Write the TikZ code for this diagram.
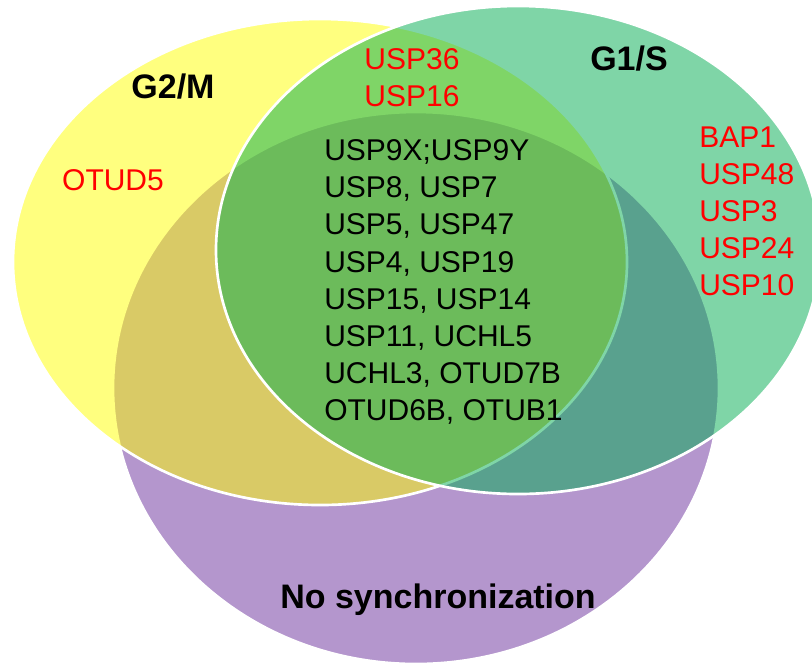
\documentclass[tikz,border=0pt]{standalone}
\usepackage{fontspec}
\setmainfont{Liberation Sans}
\definecolor{nosync}{RGB}{180,150,205}
\definecolor{gtwom}{RGB}{255,255,0}
\definecolor{gones}{RGB}{0,173,81}
\definecolor{dubred}{RGB}{255,0,0}
\tikzset{
  setline/.style={draw=white, line width=2pt},
  genes/.style={font=\fontsize{22.5}{27.8}\selectfont, align=left, inner sep=0pt},
  phase/.style={font=\fontsize{25.5}{30}\selectfont\bfseries, inner sep=0pt},
}

\begin{document}
\begin{tikzpicture}[x=0.75pt, y=-0.75pt]
    \clip (0,0) rectangle (812,665);
    \fill[white] (0,0) rectangle (812,665);

    % the three sets
    \draw[setline, fill=nosync] (416,388) ellipse [x radius=303, y radius=276];
    \draw[setline, fill=gtwom, fill opacity=0.5] (320,262) ellipse [x radius=307, y radius=243];
    \draw[setline, fill=gones, fill opacity=0.5] (518,250) ellipse [x radius=302, y radius=244];

    % set names
    \node[phase] (g2m) at (173,87) {G2/M};
    \node[phase] (g1s) at (629,59) {G1/S};
    \node[phase] (nosynclbl) at (438,600) {No synchronization};

    % DUBs
    \node[genes, text=dubred] (onlyg2m) at (113,180) {OTUD5};
    \node[genes, text=dubred] (g2mg1s) at (412,78) {USP36\\USP16};
    \node[genes, anchor=west] (allsets) at (324,282) {USP9X;USP9Y\\USP8, USP7\\USP5, USP47\\USP4, USP19\\USP15, USP14\\USP11, UCHL5\\UCHL3, OTUD7B\\OTUD6B, OTUB1};
    \node[genes, text=dubred, anchor=west] (onlyg1s) at (699,211) {BAP1\\USP48\\USP3\\USP24\\USP10};
\end{tikzpicture}
\end{document}
